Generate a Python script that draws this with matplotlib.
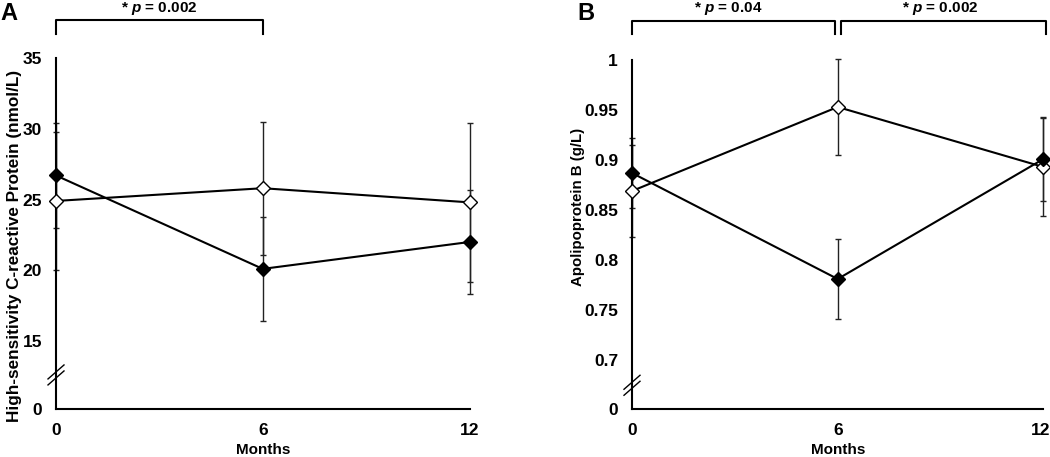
import numpy as np
import matplotlib
matplotlib.use("Agg")
import matplotlib.pyplot as plt
import matplotlib.transforms as mtransforms

# --- Style settings ---
plt.rcParams.update({
    "font.family": "sans-serif",
    "font.sans-serif": ["Liberation Sans", "DejaVu Sans"],
    "font.weight": "bold",
    "mathtext.fontset": "custom",
    "mathtext.it": "Liberation Sans:italic:bold",
    "mathtext.rm": "Liberation Sans:bold",
    "axes.linewidth": 1.5,
})

# --- Data ---
months = [0, 6, 12]

# Panel A: hs-CRP (nmol/L)
crp_filled = [26.7, 20.1, 22.0]
crp_filled_err = [3.7, 3.7, 3.7]
crp_open = [24.9, 25.8, 24.8]
crp_open_err = [4.85, 4.7, 5.6]
crp_ticks = [15, 20, 25, 30, 35]
crp_bottom = 10.2   # position of the broken-axis "0"

# Panel B: Apolipoprotein B (g/L)
apob_filled = [0.887, 0.781, 0.901]
apob_filled_err = [0.035, 0.040, 0.042]
apob_open = [0.869, 0.953, 0.893]
apob_open_err = [0.046, 0.048, 0.049]
apob_ticks = [0.7, 0.75, 0.8, 0.85, 0.9, 0.95, 1.0]
apob_tick_labels = ["0.7", "0.75", "0.8", "0.85", "0.9", "0.95", "1"]
apob_bottom = 0.651

W, H = 1050, 457


# -------------------------------------------------------------------------------------------------
def draw_series(ax, y_f, e_f, y_o, e_o):
	kw = dict(ecolor="#222222", elinewidth=1.0, capsize=2.2, capthick=1.0, clip_on=False)
	ax.errorbar(months, y_o, yerr=e_o, fmt="none", zorder=2, **kw)
	ax.errorbar(months, y_f, yerr=e_f, fmt="none", zorder=2, **kw)
	ax.plot(months, y_o, color="k", lw=1.5, marker="D", markersize=7,
	        mfc="white", mec="k", mew=1.0, zorder=3, clip_on=False)
	ax.plot(months, y_f, color="k", lw=1.5, marker="D", markersize=7,
	        mfc="k", mec="k", zorder=4, clip_on=False)


# -------------------------------------------------------------------------------------------------
def style_axes(ax):
	for s in ["top", "right"]:
		ax.spines[s].set_visible(False)
	ax.set_xlim(0, 12)
	ax.set_xticks(months)
	ax.set_xticklabels([str(m) for m in months])
	ax.tick_params(axis="both", length=0, pad=10, labelsize=12.5)
	ax.set_xlabel("Months", fontsize=11, fontweight="bold")
	ax.xaxis.set_label_coords(0.5, -0.117)
	ax.xaxis.label.set_verticalalignment("center")


# -------------------------------------------------------------------------------------------------
def axis_break(ax, yfrac):
	# two short slanted strokes across the y axis
	t = ax.transAxes
	bb = ax.get_position()
	wpx = bb.width * W
	hpx = bb.height * H
	for off in (-3, 3):
		xs = np.array([-8, 8]) / wpx
		ys = yfrac + (np.array([-7, 7]) + off) / hpx
		ax.plot(xs, ys, color="k", lw=1.0, transform=t, clip_on=False, zorder=5)


# -------------------------------------------------------------------------------------------------
def bracket(fig, ax, x0, x1, text, xtext, ypx=20, legpx=34, textpx=12):
	tr = mtransforms.blended_transform_factory(ax.transData, fig.transFigure)
	y = 1 - ypx / H
	yl = 1 - legpx / H
	ax.plot([x0, x0, x1, x1], [yl, y, y, yl], color="k", lw=1.5,
	        transform=tr, clip_on=False)
	ax.text(xtext, 1 - textpx / H, text, transform=tr, ha="center", va="baseline",
	        fontsize=11, fontweight="bold")


# -------------------------------------------------------------------------------------------------
def main():

	fig = plt.figure(figsize=(W / 100, H / 100), dpi=100)

	# --- Panel A ---
	axA = fig.add_axes([56 / W, 48 / H, 413.5 / W, 351 / H])
	draw_series(axA, crp_filled, crp_filled_err, crp_open, crp_open_err)
	style_axes(axA)
	axA.set_ylim(crp_bottom, 35)
	axA.set_yticks([crp_bottom] + crp_ticks)
	axA.set_yticklabels(["0"] + [str(t) for t in crp_ticks])
	axA.set_ylabel("High-sensitivity C-reactive Protein (nmol/L)", fontsize=12.3,
	               fontweight="bold", va="center")
	axA.yaxis.set_label_coords(-0.101, 0.464)
	axis_break(axA, 0.097)
	bracket(fig, axA, 0, 6, r"* $p$ = 0.002", 3.0)
	fig.text(9 / W, 1 - 14 / H, "A", fontsize=17, fontweight="bold", ha="center", va="center")

	# --- Panel B ---
	axB = fig.add_axes([632 / W, 48 / H, 411.4 / W, 349 / H])
	draw_series(axB, apob_filled, apob_filled_err, apob_open, apob_open_err)
	style_axes(axB)
	axB.set_ylim(apob_bottom, 1.0)
	axB.set_yticks([apob_bottom] + apob_ticks)
	axB.set_yticklabels(["0"] + apob_tick_labels)
	axB.set_ylabel("Apolipoprotein B (g/L)", fontsize=10.8, fontweight="bold", va="center")
	axB.yaxis.set_label_coords(-0.131, 0.579)
	axis_break(axB, 0.068)
	# nudge the last x label so it stays inside the figure
	lab = axB.get_xticklabels()[-1]
	lab.set_transform(lab.get_transform() + mtransforms.ScaledTranslation(-3 / 100, 0, fig.dpi_scale_trans))
	bracket(fig, axB, 0, 5.93, r"* $p$ = 0.04", 2.8, ypx=21)
	bracket(fig, axB, 6.1, 12.08, r"* $p$ = 0.002", 9.0, ypx=21)
	fig.text(586 / W, 1 - 14 / H, "B", fontsize=17, fontweight="bold", ha="center", va="center")

	fig.savefig("out.png", dpi=100)


# -------------------------------------------------------------------------------------------------
if __name__ == '__main__':
	main()
